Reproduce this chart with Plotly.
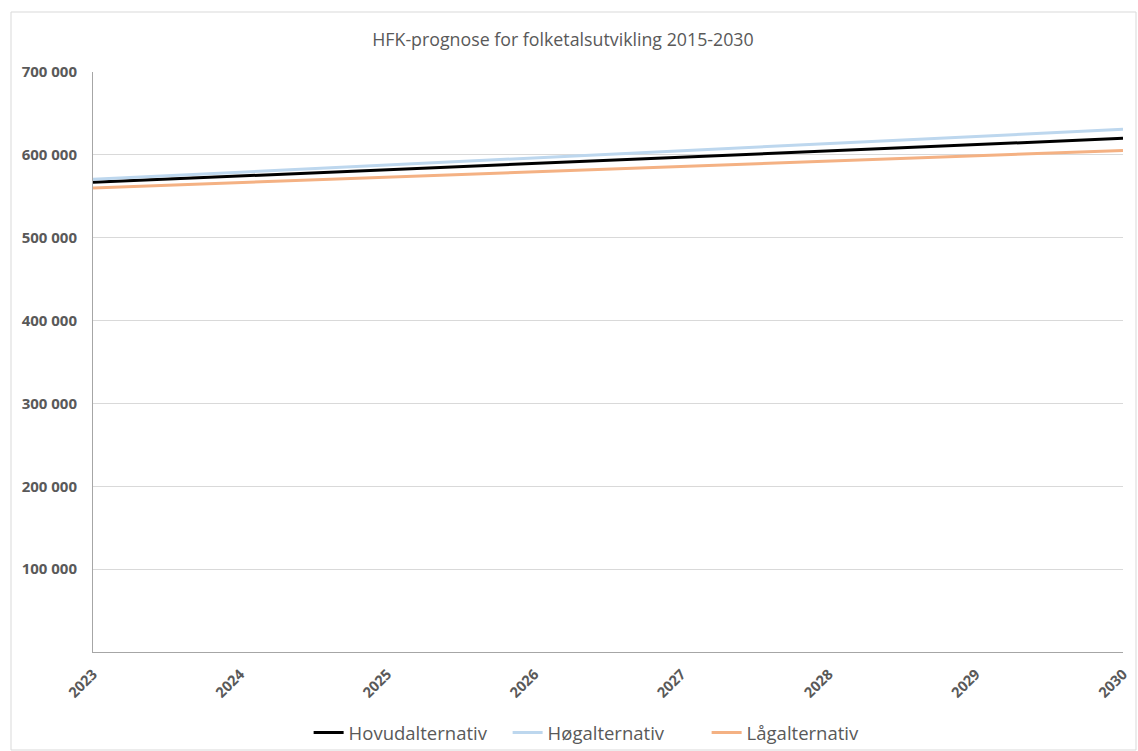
import plotly.graph_objects as go

years = [2023, 2024, 2025, 2026, 2027, 2028, 2029, 2030]
hovud = [566900, 574500, 582000, 589600, 597200, 604800, 612400, 619900]
hog = [570500, 579000, 587600, 596200, 604800, 613400, 622100, 630800]
lag = [560000, 566500, 573000, 579500, 586200, 592500, 599000, 605400]
ytick_vals = [100000, 200000, 300000, 400000, 500000, 600000, 700000]
ytick_text = ["100 000", "200 000", "300 000", "400 000", "500 000", "600 000", "700 000"]

fig = go.Figure()
fig.add_trace(go.Scatter(x=years, y=hovud, mode="lines", name="Hovudalternativ",
                         line=dict(color="#000000", width=3)))
fig.add_trace(go.Scatter(x=years, y=hog, mode="lines", name="Høgalternativ",
                         line=dict(color="#bdd7ee", width=3)))
fig.add_trace(go.Scatter(x=years, y=lag, mode="lines", name="Lågalternativ",
                         line=dict(color="#f4b183", width=3)))

font_fam = "Open Sans, Liberation Sans, sans-serif"
fig.update_layout(
    width=1138, height=751,
    margin=dict(l=93, r=15, t=72, b=99),
    paper_bgcolor="white", plot_bgcolor="white",
    title=dict(text="HFK-prognose for folketalsutvikling 2015-2030", x=0.4947, xanchor="center",
               y=0.947, yanchor="middle", font=dict(family=font_fam, size=17.8, color="#595959")),
    showlegend=True,
    legend=dict(orientation="h", xref="container", yref="container",
                x=0.5335, xanchor="center", y=0.024, yanchor="middle",
                font=dict(family=font_fam, size=18.5, color="#595959"),
                bgcolor="rgba(0,0,0,0)",
                itemwidth=30, tracegroupgap=0, entrywidth=154, entrywidthmode="pixels"),
    xaxis=dict(range=[2023, 2030], tickvals=years, ticktext=[str(y) for y in years],
               tickangle=-45, showgrid=False, showline=True, linecolor="#a6a6a6", linewidth=1,
               ticks="", zeroline=False, ticklabelstandoff=7, automargin=False,
               tickfont=dict(family=font_fam, size=14.5, color="#595959", weight="bold")),
    yaxis=dict(range=[0, 700000], tickvals=ytick_vals, ticktext=ytick_text,
               showgrid=True, gridcolor="#d9d9d9", gridwidth=1, showline=True,
               linecolor="#a6a6a6", linewidth=1, ticks="", zeroline=False,
               ticklabelstandoff=12, automargin=False,
               tickfont=dict(family=font_fam, size=15, color="#595959", weight="bold")),
)
fig.add_shape(type="rect", xref="paper", yref="paper", x0=-82/1030, x1=1043/1030,
              y0=-98/580, y1=1 + 60/580, line=dict(color="#d9d9d9", width=1),
              fillcolor="rgba(0,0,0,0)", layer="below")
fig.write_html("out.html", config={"displayModeBar": False},
               post_script="document.body.style.margin='0';document.body.style.padding='0';")
